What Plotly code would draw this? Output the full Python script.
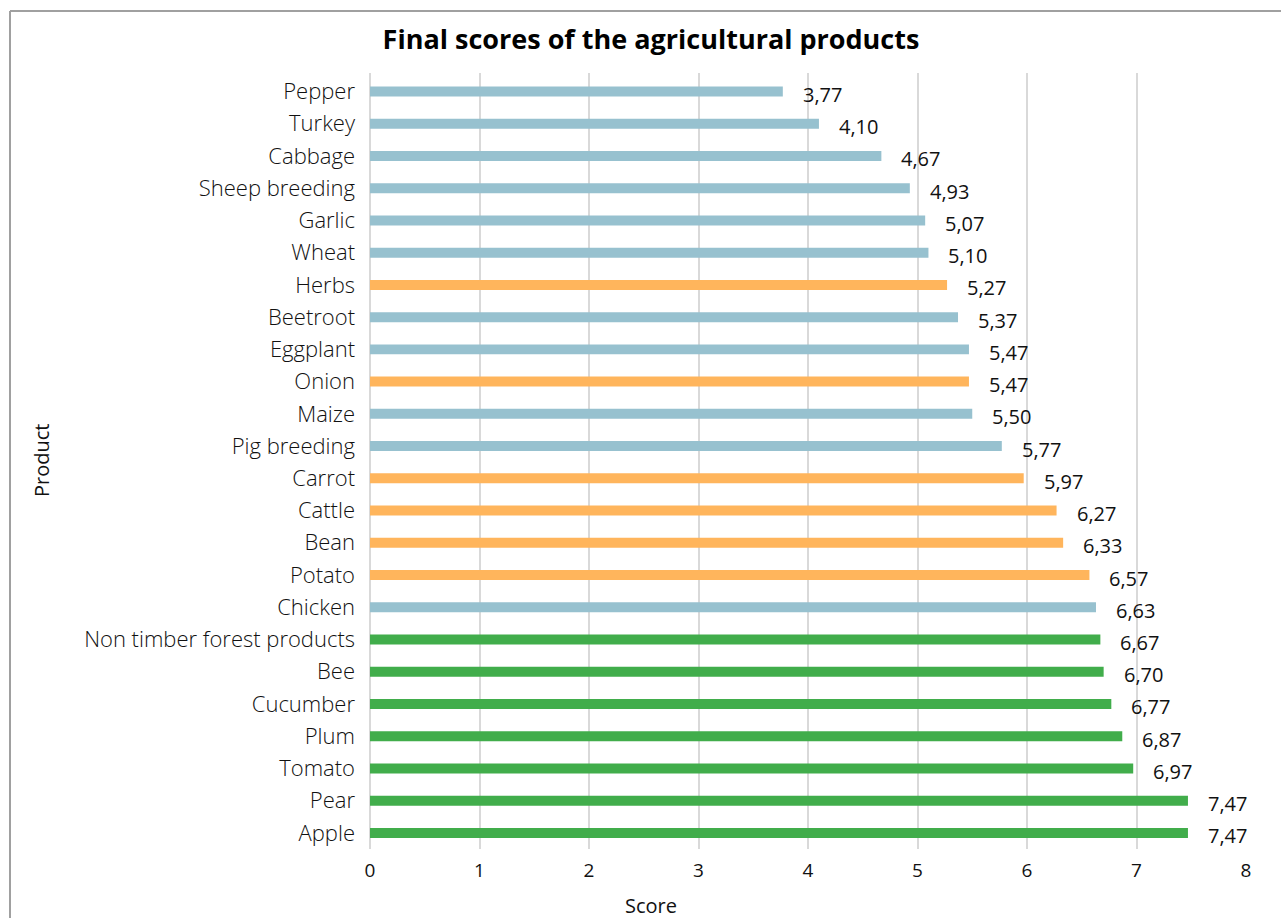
import plotly.graph_objects as go

products = ["Pepper", "Turkey", "Cabbage", "Sheep breeding", "Garlic", "Wheat", "Herbs",
            "Beetroot", "Eggplant", "Onion", "Maize", "Pig breeding", "Carrot", "Cattle",
            "Bean", "Potato", "Chicken", "Non timber forest products", "Bee", "Cucumber",
            "Plum", "Tomato", "Pear", "Apple"]
scores = [3.77, 4.10, 4.67, 4.93, 5.07, 5.10, 5.27, 5.37, 5.47, 5.47, 5.50, 5.77, 5.97,
          6.27, 6.33, 6.57, 6.63, 6.67, 6.70, 6.77, 6.87, 6.97, 7.47, 7.47]
groups = ["b", "b", "b", "b", "b", "b", "o", "b", "b", "o", "b", "b", "o", "o", "o", "o",
          "b", "g", "g", "g", "g", "g", "g", "g"]
palette = {"b": "#97c1cf", "o": "#ffb55c", "g": "#41ad4b"}
colors = [palette[g] for g in groups]

FONT = "Open Sans, Noto Sans, DejaVu Sans, sans-serif"

fig = go.Figure(go.Bar(
    x=scores, y=products, orientation="h",
    marker=dict(color=colors, line=dict(width=0)),
    width=0.31,
))

annotations = []
for p, s in zip(products, scores):
    annotations.append(dict(
        x=s, y=p, xref="x", yref="y", text=f"{s:.2f}".replace(".", ","),
        showarrow=False, xanchor="left", xshift=18, yshift=-3,
        font=dict(family=FONT, size=20, color="#111111"),
    ))
annotations.append(dict(
    x=(651 - 370) / 876, y=0.0, xref="paper", yref="paper", text="Score", showarrow=False,
    xanchor="center", yanchor="middle", yshift=-56,
    font=dict(family=FONT, size=20, color="#111111"),
))
annotations.append(dict(
    x=0, y=0.5, xref="paper", yref="paper", text="Product", showarrow=False,
    textangle=-90, xanchor="center", yanchor="middle", xshift=-329,
    font=dict(family=FONT, size=20, color="#111111"),
))

fig.update_layout(
    width=1281, height=918,
    margin=dict(l=370, r=35, t=73, b=69),
    paper_bgcolor="white", plot_bgcolor="white",
    showlegend=False,
    title=dict(text="<b>Final scores of the agricultural products</b>",
               x=651 / 1281, xanchor="center", y=1 - 40 / 918, yanchor="middle",
               font=dict(family=FONT, size=27, color="#000000")),
    xaxis=dict(range=[0, 8], dtick=1, showgrid=True, gridcolor="#d9d9d9", gridwidth=1.5,
               zeroline=True, zerolinecolor="#d9d9d9", zerolinewidth=1.5,
               showline=False, ticks="", ticklabelstandoff=8,
               tickfont=dict(family=FONT, size=19, color="#111111")),
    yaxis=dict(autorange="reversed", showgrid=False, zeroline=False, showline=False,
               ticks="", ticklabelstandoff=14,
               tickfont=dict(family=FONT, size=22, color="#111111", weight=300)),
    annotations=annotations,
    shapes=[
        dict(type="line", xref="paper", yref="paper", x0=-360 / 876, x1=1.1,
             y0=1 + 62 / 776, y1=1 + 62 / 776, line=dict(color="#a0a0a0", width=2)),
        dict(type="line", xref="paper", yref="paper", x0=-360 / 876, x1=-360 / 876,
             y0=1 + 62 / 776, y1=-0.2, line=dict(color="#a0a0a0", width=2)),
    ],
)

fig.write_html("out.html")
